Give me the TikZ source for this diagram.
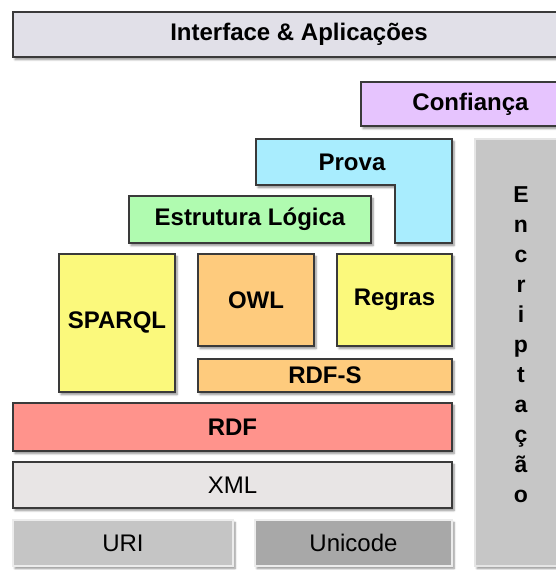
\documentclass[tikz,border=0pt]{standalone}
\usepackage{fontspec}
\setmainfont{Liberation Sans}
\usetikzlibrary{shadows.blur}
\definecolor{bordc}{HTML}{3A3A3A}
\definecolor{ifc}{HTML}{E1E0E8}
\definecolor{confc}{HTML}{E6C4FE}
\definecolor{provac}{HTML}{A9EDFE}
\definecolor{estrc}{HTML}{B0FBB0}
\definecolor{yelc}{HTML}{FBF97C}
\definecolor{orgc}{HTML}{FECB7D}
\definecolor{rdfc}{HTML}{FF938C}
\definecolor{xmlc}{HTML}{E8E5E5}
\definecolor{uric}{HTML}{C5C5C5}
\definecolor{unic}{HTML}{A8A8A8}
\definecolor{encc}{HTML}{C6C6C6}
\newcommand\blk[7]{\node[box,#6,minimum width=#4pt-#2pt,minimum height=#5pt-#3pt] (#1) at (#2,#3) {#7};}
\begin{document}
\begin{tikzpicture}[x=1pt,y=-1pt,
  shad/.style={blur shadow={shadow xshift=2pt, shadow yshift=-2.5pt, shadow blur steps=6, shadow opacity=45}},
  box/.style={draw=bordc, line width=1.2pt, inner sep=0pt, outer sep=0pt, anchor=north west,
    font=\fontsize{24}{28}\selectfont\bfseries, shad},
  lightbox/.style={draw=white!85!gray, font=\fontsize{24}{28}\selectfont},
  lbl/.style={font=\fontsize{24}{28}\selectfont\bfseries, inner sep=0pt}
]
\useasboundingbox (0,0) rectangle (556,570);
\blk{iface}{13}{12}{585}{57}{fill=ifc}{\raisebox{1pt}{Interface \& Aplicações}}
\blk{conf}{361}{82}{580}{126}{fill=confc}{Confiança}
\path[draw=bordc, line width=1.2pt, fill=provac, shad]
  (256,139) -- (452,139) -- (452,243) -- (395,243) -- (395,185) -- (256,185) -- cycle;
\node[lbl] (prova) at (352,162) {Prova};
\blk{estr}{129}{196}{371}{243}{fill=estrc}{Estrutura Lógica}
\blk{sparql}{59}{254}{175}{392}{fill=yelc}{\raisebox{5pt}{SPARQL}}
\blk{owl}{198}{254}{314}{346}{fill=orgc}{OWL}
\blk{regras}{337}{254}{452}{346}{fill=yelc}{\raisebox{2pt}{Regras}}
\blk{rdfs}{198}{359}{452}{392}{fill=orgc}{\raisebox{-2pt}{RDF-S}}
\blk{rdf}{13}{403}{452}{451}{fill=rdfc}{\raisebox{-3pt}{RDF}}
\blk{xml}{13}{462}{452}{508}{fill=xmlc,font=\fontsize{24}{28}\selectfont}{\raisebox{-4pt}{XML}}
\blk{uri}{13}{520}{233}{566}{fill=uric,lightbox}{\raisebox{-3pt}{URI}}
\blk{unicode}{255}{520}{452}{566}{fill=unic,lightbox}{\raisebox{-3pt}{Unicode}}
\blk{enc}{475}{139}{567}{566}{fill=encc,draw=white!80!gray}{}
\node[lbl, align=center, font=\fontsize{23}{30}\selectfont\bfseries, anchor=north] (enctext) at (521,186)
  {E\\n\\c\\r\\i\\p\\t\\a\\ç\\ã\\o};
\end{tikzpicture}
\end{document}
